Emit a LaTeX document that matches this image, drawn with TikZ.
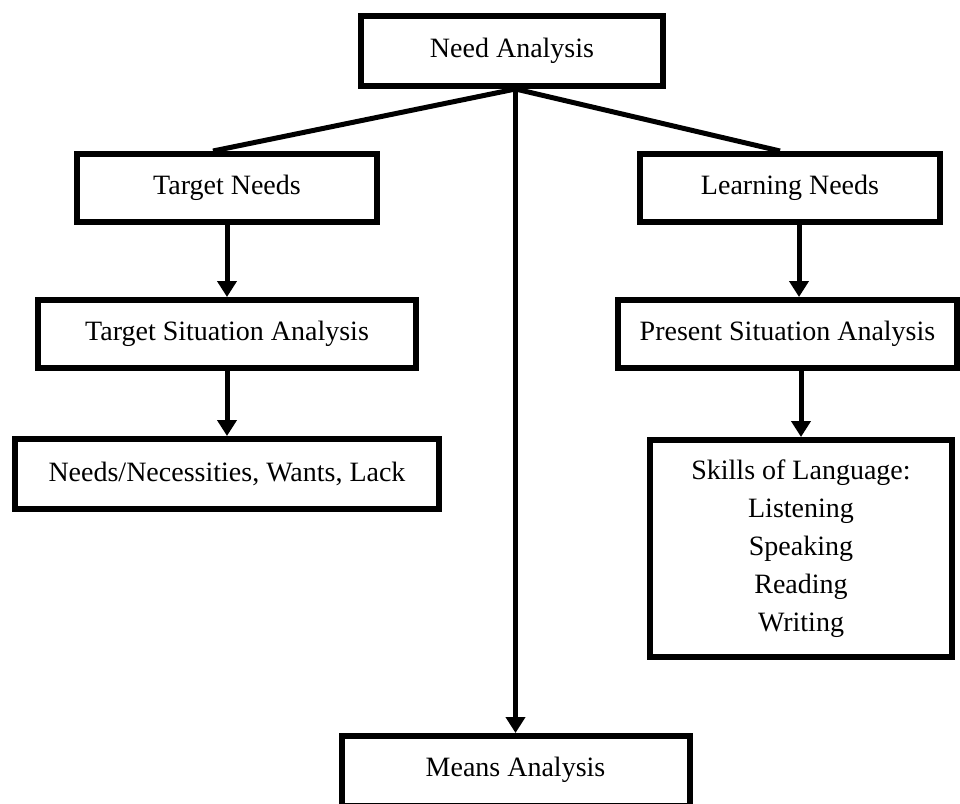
\documentclass[tikz,border=0pt]{standalone}
\usepackage{fontspec}
\setmainfont{Liberation Serif}
\usetikzlibrary{arrows.meta}
\begin{document}
\begin{tikzpicture}[x=1pt,y=-1pt,
  box/.style={draw=black,line width=6pt,rectangle,inner sep=0pt,align=center,
    font=\fontsize{28}{38}\selectfont},
  link/.style={line width=5pt},
  arr/.style={line width=5pt,-{Triangle[width=19pt,length=16pt]}}]
\useasboundingbox (0,0) rectangle (960,803);
\node[box,minimum width=302pt,minimum height=70pt] (need) at (512,51) {Need Analysis};
\node[box,minimum width=300pt,minimum height=68pt] (tneeds) at (227,188) {Target Needs};
\node[box,minimum width=300pt,minimum height=68pt] (lneeds) at (790,188) {Learning Needs};
\node[box,minimum width=378pt,minimum height=68pt] (tsa) at (227,334) {Target Situation Analysis};
\node[box,minimum width=339pt,minimum height=68pt] (psa) at (787.5,334) {Present Situation Analysis};
\node[box,minimum width=424pt,minimum height=70pt] (needs) at (227,474) {Needs/Necessities, Wants, Lack};
\node[box,minimum width=302pt,minimum height=217pt] (skills) at (801,548.5) {Skills of Language:\\Listening\\Speaking\\Reading\\Writing};
\node[box,minimum width=348pt,minimum height=70pt] (means) at (515.5,771) {\raisebox{8pt}{Means Analysis}};
\coordinate (j) at (515.5,89);
\draw[link] (j) -- ([xshift=-14pt]tneeds.north);
\draw[link] (j) -- ([xshift=-10pt]lneeds.north);
\draw[arr] (j) -- (means.north);
\draw[arr] (tneeds.south) -- (tsa.north);
\draw[arr] (tsa.south) -- (needs.north);
\draw[arr] ([xshift=9pt]lneeds.south) -- ([xshift=9pt]lneeds.south |- psa.north);
\draw[arr] (skills.north |- psa.south) -- (skills.north);
\end{tikzpicture}
\end{document}
